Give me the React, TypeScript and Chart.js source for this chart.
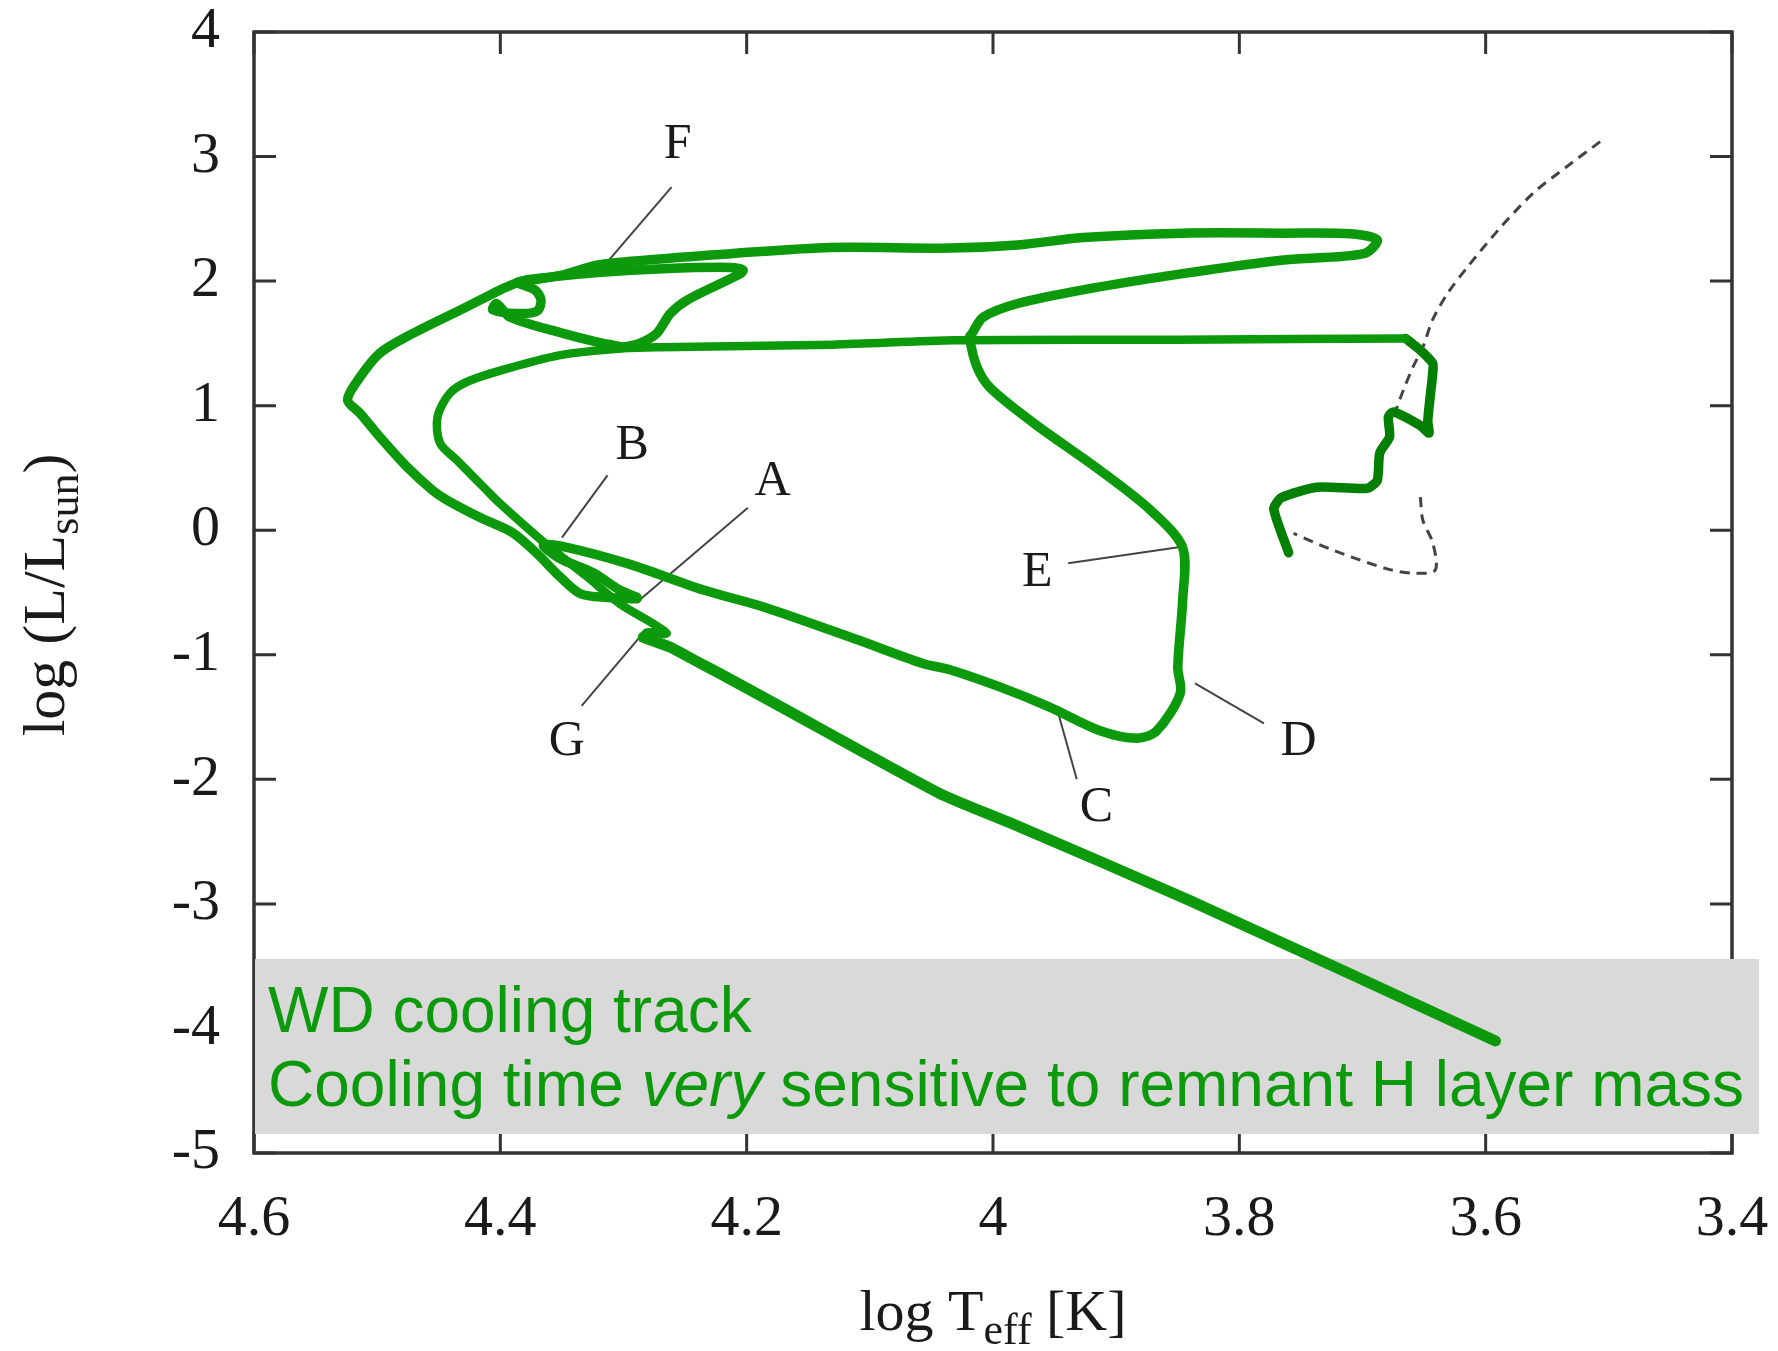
import { useEffect, useRef } from 'react';
import { Chart, registerables } from 'chart.js';

Chart.register(...registerables);

const W = 1778;
const H = 1351;

// ---------- axes ----------
const xTickValues = [4.6, 4.4, 4.2, 4.0, 3.8, 3.6, 3.4];
const xTickLabels = ['4.6', '4.4', '4.2', '4', '3.8', '3.6', '3.4'];
const yTickValues = [4, 3, 2, 1, 0, -1, -2, -3, -4, -5];
const yTickLabels = ['4', '3', '2', '1', '0', '-1', '-2', '-3', '-4', '-5'];

// ---------- green evolutionary track (log Teff, log L) ----------
const rgbLogT = [3.760, 3.772, 3.766, 3.737, 3.696, 3.688, 3.686, 3.678, 3.679, 3.675, 3.653, 3.646, 3.647, 3.643, 3.643, 3.653, 3.665];
const rgbLogL = [-0.18, 0.17, 0.26, 0.345, 0.337, 0.40, 0.62, 0.75, 0.91, 0.95, 0.84, 0.78, 0.88, 1.26, 1.34, 1.445, 1.54];

const innerLoopLogT = [3.665, 3.85, 4.03, 4.13, 4.27, 4.30, 4.349, 4.390, 4.425, 4.441, 4.451, 4.449, 4.435, 4.411, 4.403, 4.376, 4.357, 4.330, 4.303, 4.276, 4.265, 4.281, 4.284];
const innerLoopLogL = [1.54, 1.53, 1.525, 1.49, 1.47, 1.46, 1.41, 1.31, 1.20, 1.10, 0.91, 0.70, 0.56, 0.32, 0.24, 0.0, -0.16, -0.37, -0.59, -0.75, -0.83, -0.82, -0.86];

const coolingLogT = [4.284, 4.262, 4.243, 4.222, 4.181, 4.044, 3.986, 3.841, 3.592];
const coolingLogL = [-0.86, -0.94, -1.04, -1.15, -1.37, -2.11, -2.35, -2.97, -4.10];

const outerLoopLogT = [4.289, 4.313, 4.335, 4.352, 4.370, 4.390, 4.416, 4.443, 4.455, 4.476, 4.498, 4.514, 4.524, 4.516, 4.498, 4.471, 4.430, 4.414, 4.400, 4.386];
const outerLoopLogL = [-0.55, -0.54, -0.51, -0.37, -0.19, -0.02, 0.10, 0.24, 0.32, 0.51, 0.75, 0.94, 1.045, 1.20, 1.42, 1.58, 1.78, 1.86, 1.93, 1.99];

const upperLoopLogT = [4.386, 4.349, 4.321, 4.268, 4.213, 4.132, 4.035, 3.980, 3.927, 3.846, 3.764, 3.710, 3.688, 3.699, 3.764, 3.846, 3.927, 3.980, 4.008, 4.017, 4.019, 4.013, 4.002, 3.967, 3.913, 3.872, 3.846, 3.846, 3.850, 3.848, 3.867, 3.883, 3.913, 3.954, 3.994, 4.035, 4.057, 4.110, 4.185, 4.235, 4.296, 4.347, 4.365, 4.352, 4.325, 4.303, 4.289];
const upperLoopLogL = [1.99, 2.05, 2.13, 2.18, 2.22, 2.27, 2.265, 2.29, 2.35, 2.385, 2.385, 2.38, 2.33, 2.22, 2.17, 2.06, 1.93, 1.82, 1.71, 1.58, 1.55, 1.31, 1.14, 0.86, 0.48, 0.16, -0.14, -0.56, -1.10, -1.31, -1.61, -1.67, -1.61, -1.42, -1.26, -1.12, -1.07, -0.88, -0.62, -0.48, -0.27, -0.135, -0.12, -0.225, -0.34, -0.48, -0.54];

const curlLogT = [4.300, 4.287, 4.273, 4.262, 4.248, 4.205, 4.203, 4.213, 4.268, 4.321, 4.362, 4.386, 4.372, 4.367, 4.370, 4.386, 4.406, 4.403, 4.392, 4.349, 4.321, 4.300];
const curlLogL = [1.47, 1.50, 1.58, 1.74, 1.85, 2.06, 2.09, 2.11, 2.10, 2.07, 2.03, 1.99, 1.93, 1.85, 1.76, 1.74, 1.77, 1.82, 1.71, 1.58, 1.51, 1.47];

// ---------- dashed grey track ----------
const dashedUpperLogT = [3.507, 3.534, 3.561, 3.588, 3.615, 3.631, 3.643, 3.651, 3.659, 3.667, 3.673];
const dashedUpperLogL = [3.12, 2.92, 2.71, 2.43, 2.11, 1.90, 1.69, 1.47, 1.31, 1.12, 0.96];
const dashedLowerLogT = [3.653, 3.651, 3.643, 3.641, 3.659, 3.680, 3.724, 3.756];
const dashedLowerLogL = [0.265, 0.08, -0.10, -0.32, -0.345, -0.31, -0.16, -0.025];

// ---------- phase labels and leader lines ----------
const phaseLetters = ['F', 'B', 'A', 'G', 'C', 'D', 'E'];
const letterLogT = [4.256, 4.293, 4.179, 4.346, 3.916, 3.752, 3.964];
const letterLogL = [3.09, 0.678, 0.386, -1.70, -2.23, -1.70, -0.34];
const leaderStartLogT = [4.261, 4.313, 4.199, 4.334, 3.932, 3.836, 3.939];
const leaderStartLogL = [2.755, 0.44, 0.18, -1.41, -2.00, -1.23, -0.265];
const leaderEndLogT = [4.316, 4.350, 4.287, 4.287, 3.947, 3.780, 3.848];
const leaderEndLogL = [2.12, -0.06, -0.56, -0.86, -1.47, -1.55, -0.135];

const noteLine1 = 'WD cooling track';
const noteLine2Parts = ['Cooling time ', 'very', ' sensitive to remnant H layer mass'];

const GREEN = '#0c9a0c';
const DARK_GREEN = '#038003';
const SERIF = '"Liberation Serif", "Times New Roman", serif';
const SANS = '"Liberation Sans", Arial, sans-serif';

function pts(xs: number[], ys: number[]) {
  return xs.map((x, i) => ({ x, y: ys[i] }));
}

function trackDataset(xs: number[], ys: number[], color: string, width: number, tension = 0.3) {
  return {
    data: pts(xs, ys),
    showLine: true,
    borderColor: color,
    backgroundColor: color,
    borderWidth: width,
    pointRadius: 0,
    tension,
    borderCapStyle: 'round' as const,
    borderJoinStyle: 'round' as const,
    fill: false,
    order: 0,
    clip: false as const,
  };
}

function zeroPadding(s: any) {
  s.paddingLeft = 0;
  s.paddingRight = 0;
  s.paddingTop = 0;
  s.paddingBottom = 0;
}

const decorPlugin = {
  id: 'decor',
  beforeDatasetsDraw(chart: any) {
    const { ctx, chartArea: a, scales } = chart;
    const xs = scales.x;
    const ys = scales.y;
    ctx.save();
    ctx.strokeStyle = '#333333';
    ctx.lineWidth = 3.5;
    ctx.strokeRect(a.left, a.top, a.right - a.left, a.bottom - a.top);
    const TL = 22;
    ctx.lineWidth = 3;
    ctx.beginPath();
    xTickValues.forEach((v) => {
      const px = xs.getPixelForValue(v);
      ctx.moveTo(px, a.bottom);
      ctx.lineTo(px, a.bottom - TL);
      ctx.moveTo(px, a.top);
      ctx.lineTo(px, a.top + TL);
    });
    yTickValues.forEach((v) => {
      const py = ys.getPixelForValue(v);
      ctx.moveTo(a.left, py);
      ctx.lineTo(a.left + TL, py);
      ctx.moveTo(a.right, py);
      ctx.lineTo(a.right - TL, py);
    });
    ctx.stroke();

    // grey note box
    ctx.fillStyle = '#d9d9d9';
    ctx.fillRect(a.left + 1, 959, 1759 - a.left - 1, 1134 - 959);

    // letters
    ctx.fillStyle = '#1a1a1a';
    ctx.font = `50px ${SERIF}`;
    ctx.textAlign = 'center';
    ctx.textBaseline = 'middle';
    phaseLetters.forEach((t, i) => {
      ctx.fillText(t, xs.getPixelForValue(letterLogT[i]), ys.getPixelForValue(letterLogL[i]));
    });
    ctx.restore();
  },
  afterDraw(chart: any) {
    const { ctx, chartArea: a } = chart;
    ctx.save();
    // note text
    ctx.fillStyle = GREEN;
    ctx.textAlign = 'left';
    ctx.textBaseline = 'alphabetic';
    ctx.font = `64px ${SANS}`;
    ctx.fillText(noteLine1, 268, 1032);
    let x = 268;
    noteLine2Parts.forEach((p, i) => {
      ctx.font = i === 1 ? `italic 64px ${SANS}` : `64px ${SANS}`;
      ctx.fillText(p, x, 1106);
      x += ctx.measureText(p).width;
    });

    // x axis title: log T_eff [K]
    ctx.fillStyle = '#1a1a1a';
    const big = `58px ${SERIF}`;
    const small = `44px ${SERIF}`;
    ctx.font = big;
    const w1 = ctx.measureText('log T').width;
    const w3 = ctx.measureText(' [K]').width;
    ctx.font = small;
    const w2 = ctx.measureText('eff').width;
    const total = w1 + w2 + w3;
    const cx = (a.left + a.right) / 2;
    let sx = cx - total / 2;
    const base = 1330;
    ctx.font = big;
    ctx.fillText('log T', sx, base);
    sx += w1;
    ctx.font = small;
    ctx.fillText('eff', sx, base + 14);
    sx += w2;
    ctx.font = big;
    ctx.fillText(' [K]', sx, base);

    // y axis title: log (L/L_sun)
    ctx.translate(64, 595);
    ctx.rotate(-Math.PI / 2);
    ctx.font = `60px ${SERIF}`;
    const v1 = ctx.measureText('log (L/L').width;
    const v3 = ctx.measureText(')').width;
    ctx.font = small;
    const v2 = ctx.measureText('sun').width;
    let vx = -(v1 + v2 + v3) / 2;
    ctx.font = `60px ${SERIF}`;
    ctx.fillText('log (L/L', vx, 0);
    vx += v1;
    ctx.font = small;
    ctx.fillText('sun', vx, 14);
    vx += v2;
    ctx.font = `60px ${SERIF}`;
    ctx.fillText(')', vx, 0);
    ctx.restore();
  },
};

export default function App() {
  const ref = useRef<HTMLCanvasElement | null>(null);

  useEffect(() => {
    if (!ref.current) return;
    const leaders = phaseLetters.map((_, i) => ({
      data: [
        { x: leaderStartLogT[i], y: leaderStartLogL[i] },
        { x: leaderEndLogT[i], y: leaderEndLogL[i] },
      ],
      showLine: true,
      borderColor: '#444444',
      borderWidth: 2,
      pointRadius: 0,
      order: 2,
    }));
    const dashed = [
      [dashedUpperLogT, dashedUpperLogL],
      [dashedLowerLogT, dashedLowerLogL],
    ].map(([xs, ys]) => ({
      data: pts(xs, ys),
      showLine: true,
      borderColor: '#444444',
      borderWidth: 3,
      borderDash: [10, 7],
      pointRadius: 0,
      tension: 0.3,
      order: 2,
    }));

    const chart = new Chart(ref.current, {
      type: 'scatter',
      data: {
        datasets: [
          trackDataset(coolingLogT, coolingLogL, GREEN, 11, 0.2),
          trackDataset(innerLoopLogT, innerLoopLogL, GREEN, 8.5),
          trackDataset(outerLoopLogT, outerLoopLogL, GREEN, 9.5),
          trackDataset(upperLoopLogT, upperLoopLogL, GREEN, 9.5),
          trackDataset(curlLogT, curlLogL, GREEN, 9.5),
          trackDataset(rgbLogT, rgbLogL, DARK_GREEN, 9.5, 0.2),
          ...dashed,
          ...leaders,
        ] as any,
      },
      options: {
        responsive: false,
        animation: false,
        devicePixelRatio: 1,
        layout: { padding: { left: 0, top: 32, right: 46, bottom: 0 } },
        plugins: {
          legend: { display: false },
          tooltip: { enabled: false },
        },
        scales: {
          x: {
            type: 'linear',
            min: 3.4,
            max: 4.6,
            reverse: true,
            grid: { display: false, drawTicks: false },
            border: { display: false },
            afterFit: (s: any) => { s.height = 198; zeroPadding(s); },
            afterBuildTicks: (s: any) => { s.ticks = xTickValues.map((v) => ({ value: v })); },
            ticks: {
              autoSkip: false,
              maxRotation: 0,
              padding: 32,
              color: '#1a1a1a',
              font: { family: SERIF, size: 58 },
              callback: (_v: any, i: number) => xTickLabels[i],
            },
          },
          y: {
            type: 'linear',
            min: -5,
            max: 4,
            grid: { display: false, drawTicks: false },
            border: { display: false },
            afterFit: (s: any) => { s.width = 254; zeroPadding(s); },
            afterBuildTicks: (s: any) => { s.ticks = yTickValues.map((v) => ({ value: v })); },
            ticks: {
              autoSkip: false,
              padding: 34,
              color: '#1a1a1a',
              font: { family: SERIF, size: 58 },
              callback: (_v: any, i: number) => yTickLabels[i],
            },
          },
        },
      } as any,
      plugins: [decorPlugin],
    });
    return () => chart.destroy();
  }, []);

  return (
    <div style={{ position: 'absolute', left: 0, top: 0, width: W, height: H, background: '#ffffff' }}>
      <canvas ref={ref} width={W} height={H} style={{ width: W, height: H, display: 'block' }} />
    </div>
  );
}
